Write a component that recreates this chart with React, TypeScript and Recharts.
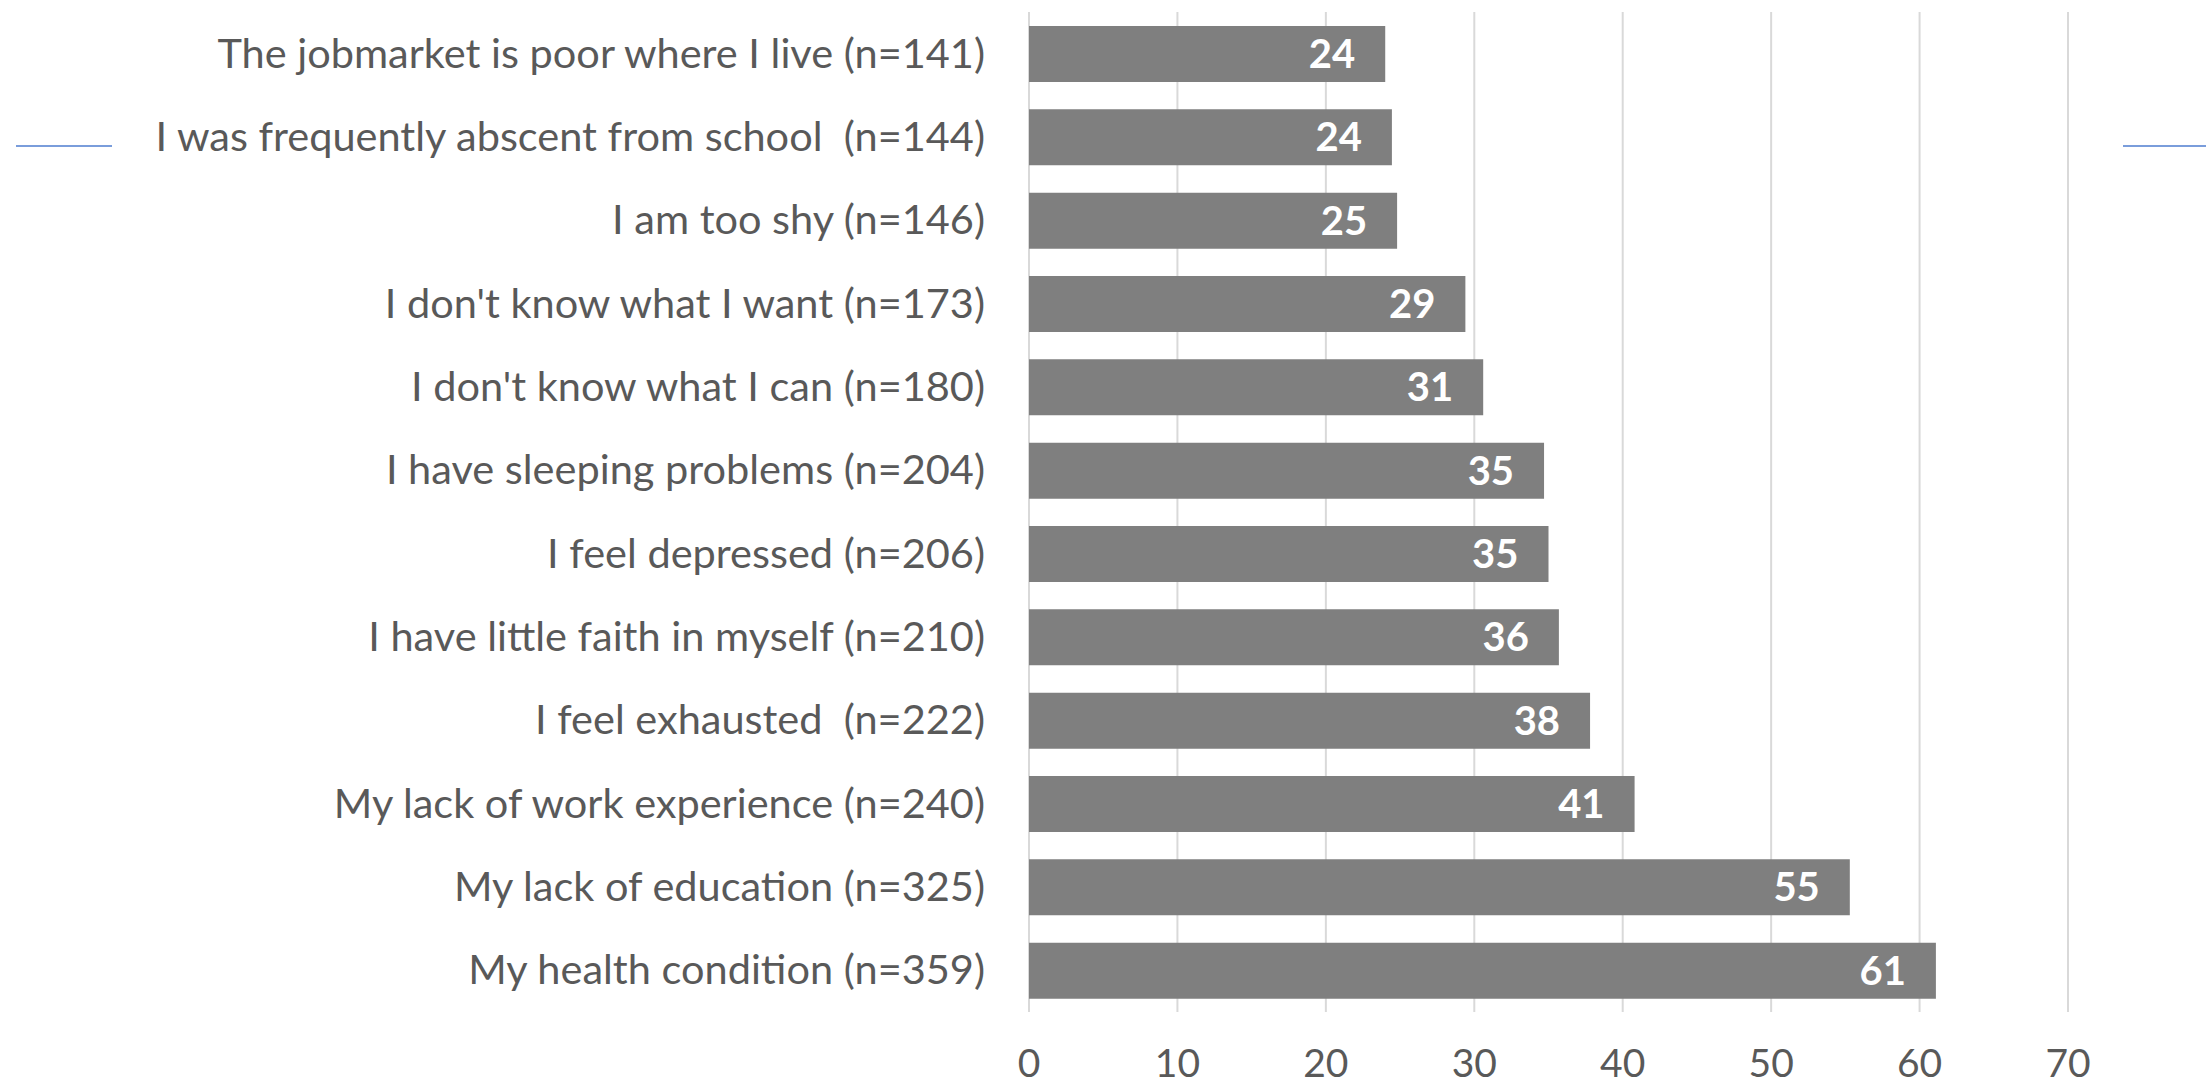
import { BarChart, Bar, XAxis, YAxis, CartesianGrid, LabelList } from 'recharts';

const categories = [
  'The jobmarket is poor where I live (n=141)',
  'I was frequently abscent from school  (n=144)',
  'I am too shy (n=146)',
  "I don't know what I want (n=173)",
  "I don't know what I can (n=180)",
  'I have sleeping problems (n=204)',
  'I feel depressed (n=206)',
  'I have little faith in myself (n=210)',
  'I feel exhausted  (n=222)',
  'My lack of work experience (n=240)',
  'My lack of education (n=325)',
  'My health condition (n=359)',
];

const values = [24.0, 24.45, 24.8, 29.4, 30.6, 34.7, 35.0, 35.7, 37.8, 40.8, 55.3, 61.1];

const xTicks = [0, 10, 20, 30, 40, 50, 60, 70];

const data = categories.map((name, i) => ({ name, value: values[i] }));

const FONT = 'Lato, "Open Sans", sans-serif';
const TEXT = '#595959';

function CategoryTick({ x, y, payload }: any) {
  return (
    <text
      x={x - 44}
      y={y + 14}
      textAnchor="end"
      fill={TEXT}
      fontFamily={FONT}
      fontSize={41.5}
      style={{ whiteSpace: 'pre' }}
    >
      {payload.value}
    </text>
  );
}

function ValueTick({ x, y, payload }: any) {
  return (
    <text x={x} y={y + 65} textAnchor="middle" fill={TEXT} fontFamily={FONT} fontSize={39}>
      {payload.value}
    </text>
  );
}

function ValueLabel({ x, y, width, height, value }: any) {
  return (
    <text
      x={x + width - 30}
      y={y + height / 2 + 14}
      textAnchor="end"
      fill="#ffffff"
      fontFamily={FONT}
      fontWeight="bold"
      fontSize={40}
    >
      {Math.round(value)}
    </text>
  );
}

export default function App() {
  return (
    <div style={{ position: 'absolute', left: 0, top: 0, width: 2206, height: 1086, background: '#fff' }}>
      <div style={{ position: 'absolute', left: 16, top: 145, width: 96, height: 2, background: '#7a9ddb' }} />
      <div style={{ position: 'absolute', left: 2123, top: 145, width: 83, height: 2, background: '#7a9ddb' }} />
      <BarChart
        layout="vertical"
        width={2206}
        height={1086}
        data={data}
        margin={{ top: 12, right: 138, bottom: 0, left: 0 }}
      >
        <CartesianGrid horizontal={false} stroke="#d9d9d9" strokeWidth={2} />
        <XAxis
          type="number"
          domain={[0, 70]}
          ticks={xTicks}
          axisLine={false}
          tickLine={false}
          tickSize={0}
          tickMargin={0}
          height={74}
          tick={<ValueTick />}
          interval={0}
        />
        <YAxis
          type="category"
          dataKey="name"
          width={1029}
          axisLine={false}
          tickLine={false}
          tickSize={0}
          tickMargin={0}
          tick={<CategoryTick />}
          interval={0}
        />
        <Bar dataKey="value" fill="#7f7f7f" barSize={56} isAnimationActive={false}>
          <LabelList dataKey="value" content={<ValueLabel />} />
        </Bar>
      </BarChart>
    </div>
  );
}
